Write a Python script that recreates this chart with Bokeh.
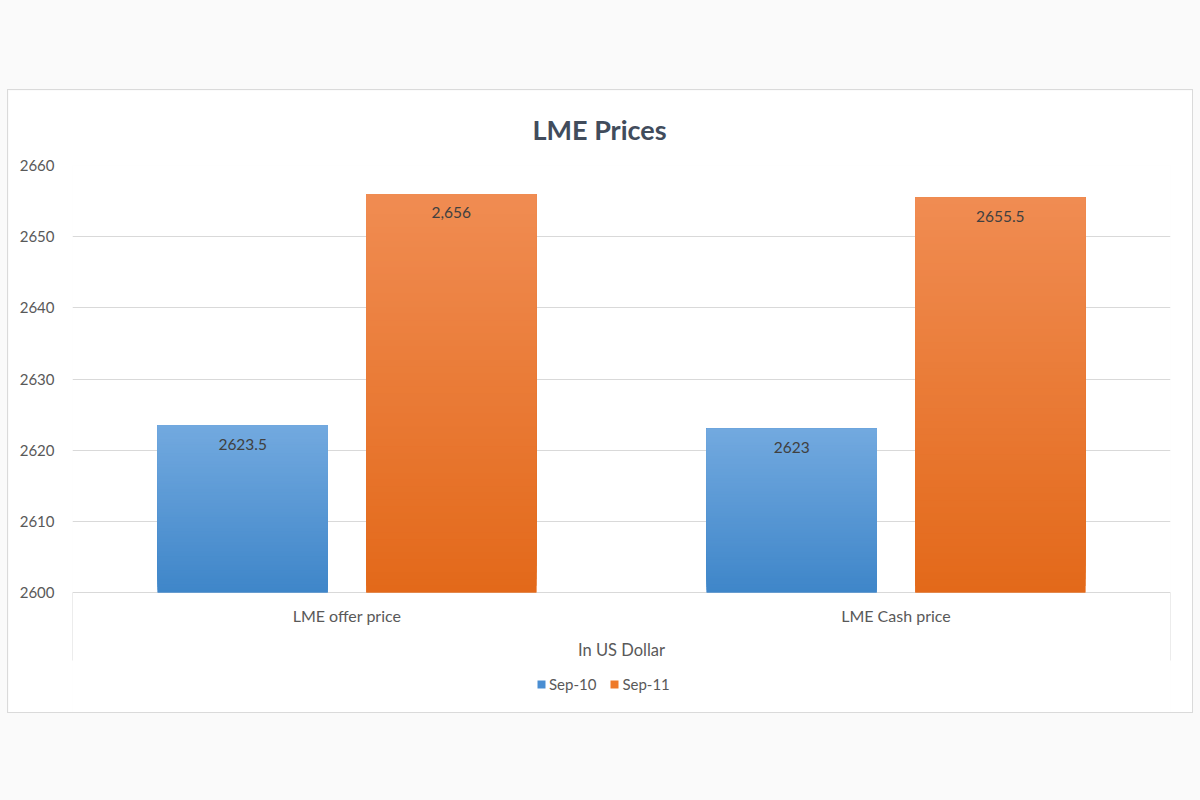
from bokeh.plotting import figure
from bokeh.models import (ColumnDataSource, FactorRange, Range1d, FixedTicker,
                          Legend, LegendItem, Div)
from bokeh.transform import dodge
from bokeh.layouts import column
from bokeh.core.properties import value
from bokeh.embed import file_html
from bokeh.resources import INLINE

# data
categories = ["LME offer price", "LME Cash price"]
series = ["Sep-10", "Sep-11"]
sep10 = [2623.5, 2623]
sep11 = [2656, 2655.5]
sep10_labels = ["2623.5", "2623"]
sep11_labels = ["2,656", "2655.5"]
y_ticks = [2600, 2610, 2620, 2630, 2640, 2650, 2660]
base = 2600
chart_title = "LME Prices"
axis_title = "In US Dollar"

FONT = "Lato"
GREY = "#595959"


def mix(c1, c2, t):
    a = [int(c1[i:i + 2], 16) for i in (1, 3, 5)]
    b = [int(c2[i:i + 2], 16) for i in (1, 3, 5)]
    return "#%02x%02x%02x" % tuple(round(a[j] + (b[j] - a[j]) * t) for j in range(3))


def gradient_source(values, bottom_col, top_col, n=60):
    # each bar is cut in thin slices, from its bottom to its top, to fake Excel's gradient fill
    cats, bots, tops, cols = [], [], [], []
    for cat, v in zip(categories, values):
        for k in range(n):
            cats.append(cat)
            bots.append(base + (v - base) * k / n)
            tops.append(v)
            cols.append(mix(bottom_col, top_col, k / (n - 1)))
    return ColumnDataSource(dict(cat=cats, bottom=bots, top=tops, color=cols))


# frame: 2660 at 75px from the figure top, 2600 at 502px, runs down to the figure bottom
px_per_unit = (502 - 75) / (y_ticks[-1] - y_ticks[0])
y_min = base - (622 - 502) / px_per_unit

p = figure(x_range=FactorRange(*categories, range_padding=0),
           y_range=Range1d(y_min, y_ticks[-1]),
           width=1184, height=622, margin=(0, 8, 0, 8),
           output_backend="svg", toolbar_location=None, tools="",
           min_border_left=64, min_border_right=22,
           min_border_top=75, min_border_bottom=0,
           background_fill_color="white", border_fill_color="white",
           outline_line_color=None,
           styles={"outline": "1px solid #dadada"})

p.title.text = chart_title
p.title.align = "left"
p.title.offset = 460
p.title.text_font = FONT
p.title.text_font_size = "27px"
p.title.text_font_style = "bold"
p.title.text_color = "#414c5c"
p.title.standoff = 40

p.xaxis.visible = False
p.xgrid.visible = False
p.yaxis.ticker = FixedTicker(ticks=y_ticks)
p.ygrid.ticker = FixedTicker(ticks=y_ticks)
p.ygrid.grid_line_color = "#d9d9d9"
p.yaxis.axis_line_color = None
p.yaxis.major_tick_line_color = None
p.yaxis.minor_tick_line_color = None
p.yaxis.major_label_standoff = 12
p.yaxis.major_label_text_font = FONT
p.yaxis.major_label_text_font_size = "15px"
p.yaxis.major_label_text_color = GREY

offsets = [-0.19, 0.19]
solid = ["#4a8ed2", "#ee7a2a"]
grads = [("#3f86c9", "#72a9df"), ("#e3691a", "#f08c52")]
vals = [sep10, sep11]
labs = [sep10_labels, sep11_labels]

items = []
for name, off, col, (c0, c1), v, lab in zip(series, offsets, solid, grads, vals, labs):
    src = ColumnDataSource(dict(cat=categories, val=v, label=lab))
    xs = dodge("cat", off, range=p.x_range)
    bar = p.vbar(x=xs, bottom=base, top="val", width=0.31, source=src,
                 fill_color=col, line_color=None)
    p.vbar(x=xs, bottom="bottom", top="top", width=0.31,
           source=gradient_source(v, c0, c1), fill_color="color", line_color=None)
    p.text(x=xs, y="val", text="label", source=src, y_offset=19,
           text_align="center", text_baseline="middle",
           text_font=value(FONT), text_font_size="15.5px", text_color="#404040")
    items.append(LegendItem(label=name, renderers=[bar]))

# category texts and the frame of the category axis, under the 2600 line
cat_src = ColumnDataSource(dict(cat=categories))
p.text(x="cat", y=base, text="cat", source=cat_src, y_offset=23,
       text_align="center", text_baseline="middle",
       text_font=value(FONT), text_font_size="16px", text_color=GREY)
edge_src = ColumnDataSource(dict(first=[categories[0]], last=[categories[-1]]))
edge_bottom = base - 68 / px_per_unit
for field, off in (("first", -0.5), ("last", 0.5)):
    ex = dodge(field, off, range=p.x_range)
    p.segment(x0=ex, x1=ex, y0=base, y1=edge_bottom, source=edge_src,
              line_color="#d9d9d9", line_width=1)
p.text(x=[0.5 * len(categories)], y=[base], text=[axis_title], y_offset=57,
       text_align="center", text_baseline="middle",
       text_font=value(FONT), text_font_size="16.5px", text_color=GREY)

legend = Legend(items=items, orientation="horizontal", location=(464, 19),
                glyph_width=10, glyph_height=10, label_height=16,
                label_text_font=FONT, label_text_font_size="15px",
                label_text_color=GREY, label_standoff=3, spacing=13,
                padding=0, margin=0, border_line_color=None,
                background_fill_alpha=0)
p.add_layout(legend, "center")

top_band = Div(text="", width=1200, height=90, margin=0)
bottom_band = Div(text="", width=1200, height=88, margin=0)
layout = column(top_band, p, bottom_band, spacing=0,
                styles={"background-color": "#fafafa"})

open("out.html", "w").write(file_html(layout, INLINE))
